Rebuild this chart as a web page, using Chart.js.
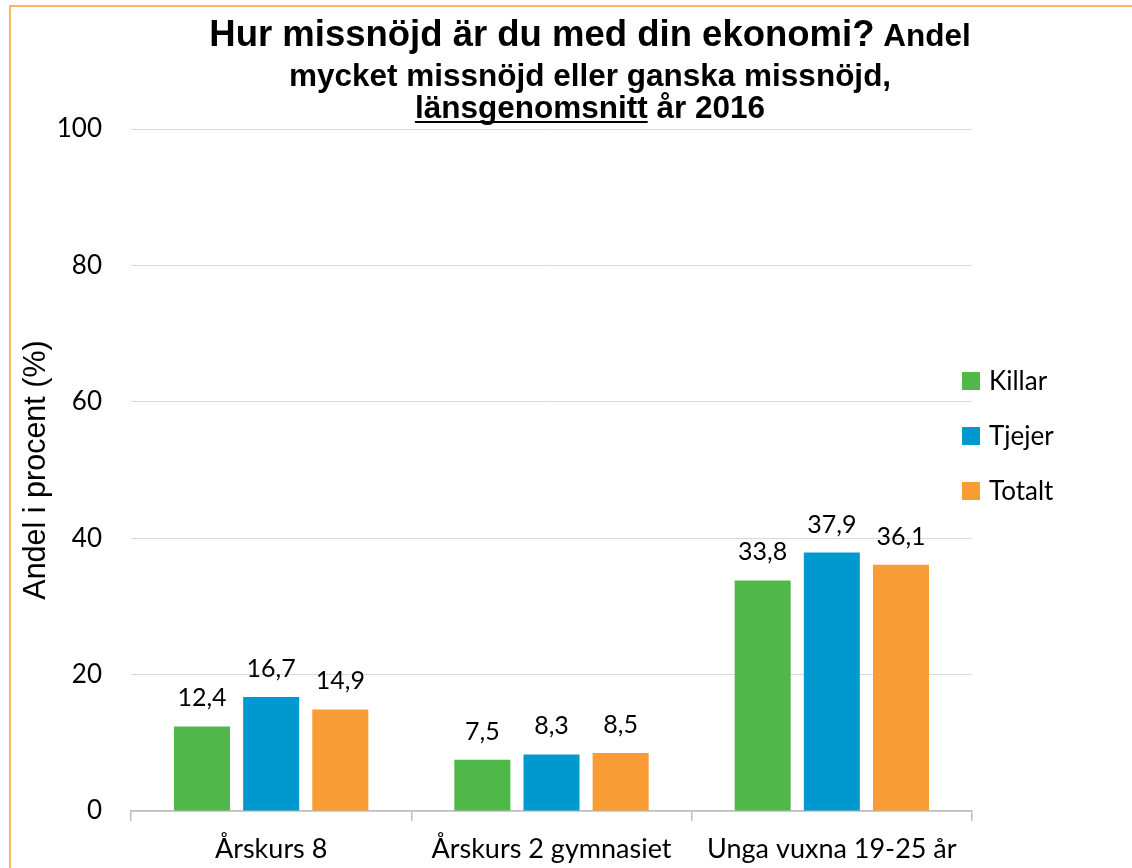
<!DOCTYPE html>
<html>
<head>
<meta charset="utf-8">
<style>
  html, body { margin: 0; padding: 0; background: #fff; }
  #wrap { width: 1132px; height: 868px; position: relative; }
</style>
<script src="https://cdn.jsdelivr.net/npm/chart.js@4.4.1/dist/chart.umd.min.js"></script>
</head>
<body>
<div id="wrap"><canvas id="c" width="1132" height="868"></canvas></div>
<script>
const categories = ['Årskurs 8', 'Årskurs 2 gymnasiet', 'Unga vuxna 19-25 år'];
const seriesNames = ['Killar', 'Tjejer', 'Totalt'];
const killar = [12.4, 7.5, 33.8];
const tjejer = [16.7, 8.3, 37.9];
const totalt = [14.9, 8.5, 36.1];
const seriesColors = ['#50B848', '#0099CF', '#F89C35'];
const yTicks = [0, 20, 40, 60, 80, 100];
const titleMain = 'Hur missnöjd är du med din ekonomi?';
const titleSmall = ' Andel';
const titleLine2 = 'mycket missnöjd eller ganska missnöjd,';
const titleLine3a = 'länsgenomsnitt';
const titleLine3b = ' år 2016';
const yTitle = 'Andel i procent (%)';

const SX = 1.0;
const CX = 590;

const decor = {
  id: 'decor',
  beforeDraw(chart) {
    const ctx = chart.ctx;
    ctx.save();
    ctx.fillStyle = '#fff';
    ctx.fillRect(0, 0, chart.width, chart.height);
    ctx.strokeStyle = '#FAB46E';
    ctx.lineWidth = 2;
    ctx.beginPath();
    ctx.moveTo(10, chart.height + 5);
    ctx.lineTo(10, 6);
    ctx.lineTo(chart.width + 5, 6);
    ctx.stroke();
    ctx.restore();
  },
  afterDraw(chart) {
    const ctx = chart.ctx;
    ctx.save();
    ctx.fillStyle = '#000';
    ctx.textBaseline = 'alphabetic';
    ctx.textAlign = 'left';
    const fBig = 'bold 36.5px "Liberation Sans", Arial, sans-serif';
    const fSm = 'bold 31.5px "Liberation Sans", Arial, sans-serif';
    // line 1
    ctx.font = fBig; const w1 = ctx.measureText(titleMain).width;
    ctx.font = fSm; const w2 = ctx.measureText(titleSmall).width;
    let x0 = CX - (w1 + w2) * SX / 2;
    ctx.save(); ctx.translate(x0, 46); ctx.scale(SX, 1);
    ctx.font = fBig; ctx.fillText(titleMain, 0, 0);
    ctx.font = fSm; ctx.fillText(titleSmall, w1, 0);
    ctx.restore();
    // line 2
    ctx.font = fSm; const w3 = ctx.measureText(titleLine2).width;
    ctx.save(); ctx.translate(CX - w3 * SX / 2, 86); ctx.scale(SX, 1);
    ctx.fillText(titleLine2, 0, 0);
    ctx.restore();
    // line 3
    const w4 = ctx.measureText(titleLine3a).width;
    const w5 = ctx.measureText(titleLine3b).width;
    ctx.save(); ctx.translate(CX - (w4 + w5) * SX / 2, 118); ctx.scale(SX, 1);
    ctx.fillText(titleLine3a, 0, 0);
    ctx.fillText(titleLine3b, w4, 0);
    ctx.fillRect(0, 3, w4, 2);
    ctx.restore();

    // data labels
    ctx.font = '25px Lato, "Open Sans", sans-serif';
    ctx.textAlign = 'center';
    ctx.textBaseline = 'alphabetic';
    chart.data.datasets.forEach((ds, i) => {
      const meta = chart.getDatasetMeta(i);
      meta.data.forEach((bar, j) => {
        const v = ds.data[j];
        ctx.fillText(v.toFixed(1).replace('.', ','), bar.x, bar.y - 20);
      });
    });

    // legend
    ctx.font = '26px Lato, "Open Sans", sans-serif';
    ctx.textAlign = 'left';
    ctx.textBaseline = 'middle';
    const ly = [381, 436, 491];
    chart.data.datasets.forEach((ds, i) => {
      ctx.fillStyle = ds.backgroundColor;
      ctx.fillRect(962, ly[i] - 9, 18, 18);
      ctx.fillStyle = '#000';
      ctx.fillText(ds.label, 989, ly[i] + 1);
    });
    ctx.restore();
  }
};

new Chart(document.getElementById('c'), {
  type: 'bar',
  data: {
    labels: categories,
    datasets: [
      { label: seriesNames[0], data: killar, backgroundColor: seriesColors[0] },
      { label: seriesNames[1], data: tjejer, backgroundColor: seriesColors[1] },
      { label: seriesNames[2], data: totalt, backgroundColor: seriesColors[2] }
    ]
  },
  options: {
    responsive: false,
    animation: false,
    devicePixelRatio: 1,
    layout: { padding: { left: 10, right: 160, top: 129, bottom: 0 } },
    datasets: { bar: { categoryPercentage: 0.74, barPercentage: 0.81 } },
    plugins: {
      legend: { display: false },
      tooltip: { enabled: false },
      title: { display: false }
    },
    scales: {
      x: {
        afterFit(s) { s.height = 57; },
        border: { display: true, color: '#BFBFBF', width: 1.5 },
        grid: { display: true, drawOnChartArea: false, drawTicks: true, tickLength: 10, offset: true, color: '#BFBFBF', lineWidth: 1.5 },
        ticks: { color: '#000', padding: 12, font: { family: 'Lato, "Open Sans", sans-serif', size: 27 }, maxRotation: 0, autoSkip: false }
      },
      y: {
        min: 0, max: 100,
        afterFit(s) { s.width = 121; },
        afterBuildTicks(s) { s.ticks = yTicks.map(v => ({ value: v })); },
        border: { display: false },
        grid: { color: '#D9D9D9', lineWidth: 1, drawTicks: false },
        ticks: { color: '#000', padding: 29, font: { family: 'Lato, "Open Sans", sans-serif', size: 26 } },
        title: { display: true, text: yTitle, color: '#000', padding: { top: 8, bottom: 0 }, font: { family: '"Liberation Sans", Arial, sans-serif', size: 30.5 } }
      }
    }
  },
  plugins: [decor]
});
</script>
</body>
</html>
